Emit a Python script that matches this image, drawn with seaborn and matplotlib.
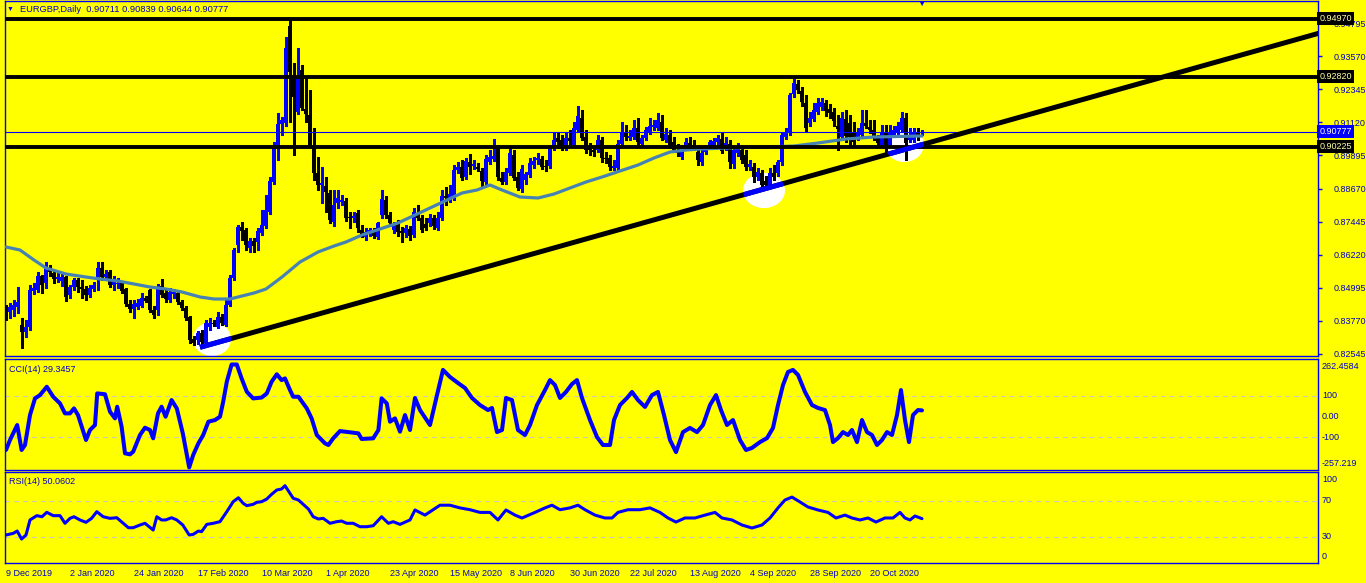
import numpy as np
import matplotlib
matplotlib.use("Agg")
import matplotlib.pyplot as plt
import matplotlib.transforms as mtransforms
from matplotlib.patches import Ellipse
import seaborn as sns

# daily candles (bar index 0 = 9 Dec 2019)
opens = [
    0.84242, 0.84093, 0.84167, 0.84279, 0.83612, 0.83352, 0.83538, 0.84872, 0.84909, 0.85428,
    0.85168, 0.85724, 0.85539, 0.85316, 0.85242, 0.85391, 0.84724, 0.85020, 0.85279, 0.85020,
    0.84946, 0.84724, 0.84946, 0.85353, 0.85724, 0.85391, 0.85576, 0.85094, 0.85131, 0.85168,
    0.84946, 0.84390, 0.84204, 0.84279, 0.84316, 0.84613, 0.84909, 0.84167, 0.84167, 0.85057,
    0.84798, 0.84538, 0.84761, 0.84798, 0.84464, 0.84242, 0.83908, 0.83093, 0.83056, 0.83315,
    0.82945, 0.83538, 0.83686, 0.83538, 0.83908, 0.83612, 0.84353, 0.85353, 0.86576, 0.87243,
    0.87132, 0.86465, 0.86725, 0.86688, 0.87021, 0.87280, 0.87799, 0.88911, 0.90282, 0.91061,
    0.91098, 0.94692, 0.92765, 0.91505, 0.93062, 0.91616, 0.91394, 0.90171, 0.89245, 0.88800,
    0.88763, 0.88503, 0.87429, 0.88133, 0.88170, 0.88207, 0.87614, 0.87577, 0.87762, 0.87132,
    0.86873, 0.87021, 0.87095, 0.86873, 0.87688, 0.88244, 0.87688, 0.87132, 0.87392, 0.87095,
    0.87021, 0.87169, 0.86947, 0.87762, 0.87577, 0.87355, 0.87392, 0.87577, 0.87206, 0.87577,
    0.88392, 0.88318, 0.88281, 0.89356, 0.89467, 0.89096, 0.89652, 0.89504, 0.89467, 0.89319,
    0.88911, 0.89652, 0.89763, 0.90171, 0.89059, 0.88911, 0.89245, 0.89911, 0.89096, 0.88651,
    0.88985, 0.89171, 0.89541, 0.89726, 0.89763, 0.89504, 0.89504, 0.90171, 0.90542, 0.90468,
    0.90171, 0.90542, 0.90282, 0.90838, 0.91283, 0.90579, 0.90171, 0.90097, 0.90097, 0.90468,
    0.89800, 0.89800, 0.89430, 0.89430, 0.90320, 0.90764, 0.90542, 0.90579, 0.90912, 0.90320,
    0.90542, 0.90764, 0.90949, 0.90912, 0.91135, 0.90468, 0.90653, 0.90394, 0.90097, 0.89837,
    0.90208, 0.90357, 0.90282, 0.90023, 0.89652, 0.90023, 0.90208, 0.90282, 0.90394, 0.90505,
    0.90208, 0.90320, 0.89578, 0.89985, 0.90097, 0.89911, 0.89467, 0.89467, 0.89096, 0.89245,
    0.88948, 0.88800, 0.89245, 0.89245, 0.89652, 0.90579, 0.90727, 0.92173, 0.92543, 0.92284,
    0.91839, 0.91098, 0.91246, 0.91505, 0.91691, 0.91839, 0.91616, 0.91505, 0.90987, 0.90579,
    0.91246, 0.91098, 0.90727, 0.90579, 0.90653, 0.91098, 0.90949, 0.90838, 0.90542, 0.90282,
    0.90764, 0.90282, 0.90653, 0.90764, 0.90838, 0.91283, 0.90468, 0.90468, 0.90727, 0.90711,
]
highs = [
    0.84353, 0.84427, 0.84538, 0.85020, 0.83871, 0.83797, 0.85094, 0.85168, 0.85576, 0.85465,
    0.85946, 0.85835, 0.85650, 0.85539, 0.85576, 0.85428, 0.85094, 0.85353, 0.85353, 0.85279,
    0.85057, 0.85094, 0.85205, 0.85946, 0.85946, 0.85650, 0.85650, 0.85428, 0.85353, 0.85242,
    0.84983, 0.84538, 0.84538, 0.84575, 0.84798, 0.84687, 0.84946, 0.84316, 0.85131, 0.85316,
    0.84909, 0.84983, 0.84946, 0.84872, 0.84538, 0.84316, 0.83945, 0.83204, 0.83389, 0.83426,
    0.83797, 0.83871, 0.83797, 0.84093, 0.84019, 0.84538, 0.85465, 0.86465, 0.87318, 0.87429,
    0.87206, 0.86836, 0.86836, 0.87206, 0.87873, 0.88429, 0.89096, 0.90394, 0.91468, 0.91320,
    0.94285, 0.94915, 0.93321, 0.93877, 0.93247, 0.92765, 0.92321, 0.90912, 0.89837, 0.89467,
    0.89096, 0.88614, 0.88614, 0.88614, 0.88429, 0.88318, 0.87799, 0.87799, 0.87873, 0.87318,
    0.87206, 0.87206, 0.87206, 0.87429, 0.88614, 0.88392, 0.87799, 0.87429, 0.87503, 0.87243,
    0.87318, 0.87280, 0.87947, 0.88058, 0.87688, 0.87577, 0.87725, 0.87688, 0.87799, 0.88614,
    0.88725, 0.88800, 0.89541, 0.89652, 0.89726, 0.89800, 0.89948, 0.89726, 0.89615, 0.89430,
    0.89911, 0.90097, 0.90505, 0.90282, 0.89282, 0.89430, 0.90171, 0.90097, 0.89282, 0.89541,
    0.89282, 0.89800, 0.89837, 0.89985, 0.89874, 0.89726, 0.90282, 0.90727, 0.90727, 0.90653,
    0.90764, 0.90838, 0.91135, 0.91727, 0.91579, 0.90838, 0.90356, 0.90245, 0.90653, 0.90579,
    0.90023, 0.89911, 0.89726, 0.90468, 0.91135, 0.91024, 0.90838, 0.91209, 0.91283, 0.90653,
    0.90949, 0.91283, 0.91209, 0.91468, 0.91394, 0.90912, 0.90838, 0.90579, 0.90320, 0.90282,
    0.90542, 0.90579, 0.90468, 0.90171, 0.90097, 0.90282, 0.90468, 0.90542, 0.90653, 0.90727,
    0.90579, 0.90468, 0.90245, 0.90357, 0.90208, 0.90097, 0.89726, 0.89615, 0.89430, 0.89356,
    0.89133, 0.89430, 0.89541, 0.89726, 0.90727, 0.90912, 0.92210, 0.92728, 0.92691, 0.92432,
    0.92136, 0.91505, 0.91839, 0.92024, 0.92024, 0.91950, 0.91802, 0.91653, 0.91394, 0.91505,
    0.91579, 0.91394, 0.91135, 0.90912, 0.91579, 0.91579, 0.91209, 0.91209, 0.90653, 0.91024,
    0.91024, 0.91024, 0.90986, 0.91135, 0.91505, 0.91468, 0.90912, 0.90912, 0.90912, 0.90839,
]
lows = [
    0.83797, 0.83871, 0.83945, 0.84056, 0.82760, 0.83167, 0.83426, 0.84761, 0.84835, 0.84798,
    0.84983, 0.85428, 0.85168, 0.85205, 0.85057, 0.84501, 0.84613, 0.84909, 0.84835, 0.84613,
    0.84538, 0.84650, 0.84872, 0.84909, 0.85279, 0.85279, 0.85020, 0.84909, 0.84983, 0.84798,
    0.84316, 0.84093, 0.83871, 0.84204, 0.84279, 0.84464, 0.84093, 0.83871, 0.83982, 0.84650,
    0.84464, 0.84464, 0.84613, 0.84390, 0.84167, 0.83797, 0.82945, 0.82871, 0.82908, 0.82834,
    0.82871, 0.83426, 0.83575, 0.83501, 0.83612, 0.83575, 0.84316, 0.85279, 0.86317, 0.86762,
    0.86391, 0.86317, 0.86317, 0.86391, 0.86947, 0.87206, 0.87725, 0.88836, 0.89726, 0.90653,
    0.90987, 0.91135, 0.89912, 0.91431, 0.91579, 0.91135, 0.90208, 0.88985, 0.88614, 0.88133,
    0.87799, 0.87392, 0.87280, 0.87947, 0.88058, 0.87466, 0.87206, 0.87429, 0.87058, 0.86873,
    0.86762, 0.86910, 0.86836, 0.86799, 0.87577, 0.87577, 0.87280, 0.87021, 0.86910, 0.86688,
    0.86873, 0.86762, 0.86873, 0.87503, 0.87058, 0.87132, 0.87280, 0.87169, 0.87132, 0.87503,
    0.88058, 0.88170, 0.88244, 0.89245, 0.88985, 0.89022, 0.89207, 0.89393, 0.89319, 0.88763,
    0.88836, 0.89578, 0.89689, 0.88985, 0.88836, 0.88836, 0.89171, 0.88985, 0.88614, 0.88540,
    0.88836, 0.89096, 0.89430, 0.89578, 0.89393, 0.89319, 0.89430, 0.90097, 0.90171, 0.90097,
    0.90097, 0.90320, 0.90208, 0.90764, 0.90468, 0.89985, 0.89911, 0.89874, 0.90023, 0.89652,
    0.89615, 0.89356, 0.89356, 0.89356, 0.90245, 0.90468, 0.90468, 0.90505, 0.90282, 0.90208,
    0.90468, 0.90690, 0.90838, 0.90838, 0.90468, 0.90394, 0.90171, 0.90023, 0.89874, 0.89763,
    0.90134, 0.90171, 0.90097, 0.89541, 0.89541, 0.89948, 0.90134, 0.90208, 0.90282, 0.89985,
    0.90097, 0.89430, 0.89430, 0.89874, 0.89615, 0.89356, 0.89356, 0.88911, 0.88985, 0.88614,
    0.88688, 0.88688, 0.88985, 0.89133, 0.89541, 0.90505, 0.90653, 0.92061, 0.92210, 0.91727,
    0.90764, 0.90986, 0.91172, 0.91431, 0.91579, 0.91357, 0.91283, 0.90987, 0.90097, 0.90468,
    0.90394, 0.90245, 0.90282, 0.90468, 0.90579, 0.90912, 0.90727, 0.90468, 0.90208, 0.90208,
    0.90023, 0.90208, 0.90579, 0.90690, 0.90764, 0.89726, 0.90394, 0.90394, 0.90468, 0.90644,
]
closes = [
    0.83908, 0.84279, 0.84353, 0.84464, 0.83352, 0.83538, 0.84909, 0.84983, 0.85428, 0.85094,
    0.85798, 0.85576, 0.85316, 0.85391, 0.85391, 0.84650, 0.85020, 0.85279, 0.85020, 0.84946,
    0.84724, 0.84983, 0.85094, 0.85724, 0.85391, 0.85502, 0.85094, 0.85205, 0.85168, 0.84872,
    0.84390, 0.84204, 0.84390, 0.84427, 0.84613, 0.84501, 0.84167, 0.83982, 0.85020, 0.84724,
    0.84575, 0.84835, 0.84835, 0.84464, 0.84242, 0.83871, 0.83056, 0.82945, 0.83315, 0.82982,
    0.83686, 0.83686, 0.83649, 0.83908, 0.83686, 0.84353, 0.85353, 0.86391, 0.87243, 0.87095,
    0.86576, 0.86725, 0.86539, 0.87095, 0.87318, 0.87873, 0.88948, 0.90171, 0.91061, 0.91209,
    0.93877, 0.92988, 0.92061, 0.92765, 0.91653, 0.91431, 0.90282, 0.89245, 0.88800, 0.88874,
    0.88540, 0.87503, 0.88058, 0.88318, 0.88244, 0.87577, 0.87577, 0.87651, 0.87206, 0.86947,
    0.87058, 0.87132, 0.86910, 0.87392, 0.88281, 0.87688, 0.87392, 0.87318, 0.87058, 0.87021,
    0.87206, 0.86910, 0.87799, 0.87577, 0.87132, 0.87206, 0.87577, 0.87280, 0.87577, 0.88392,
    0.88318, 0.88466, 0.89356, 0.89467, 0.89059, 0.89689, 0.89467, 0.89578, 0.89393, 0.88948,
    0.89763, 0.89837, 0.89874, 0.89096, 0.88911, 0.89282, 0.89985, 0.89059, 0.88688, 0.89393,
    0.89207, 0.89615, 0.89689, 0.89800, 0.89467, 0.89467, 0.90171, 0.90468, 0.90394, 0.90171,
    0.90542, 0.90431, 0.90912, 0.91357, 0.90542, 0.90097, 0.90097, 0.90023, 0.90468, 0.89800,
    0.89763, 0.89467, 0.89504, 0.90320, 0.90764, 0.90579, 0.90616, 0.90912, 0.90394, 0.90542,
    0.90838, 0.90986, 0.91024, 0.91209, 0.90542, 0.90690, 0.90282, 0.90097, 0.89985, 0.90097,
    0.90394, 0.90245, 0.90208, 0.89726, 0.89985, 0.90171, 0.90394, 0.90431, 0.90542, 0.90060,
    0.90357, 0.89652, 0.90097, 0.90171, 0.89726, 0.89467, 0.89578, 0.89096, 0.89282, 0.88800,
    0.88800, 0.89245, 0.89096, 0.89652, 0.90653, 0.90727, 0.92136, 0.92580, 0.92321, 0.91876,
    0.90912, 0.91283, 0.91579, 0.91839, 0.91876, 0.91542, 0.91468, 0.91172, 0.90875, 0.91283,
    0.90616, 0.90579, 0.90394, 0.90727, 0.91098, 0.90986, 0.90838, 0.90579, 0.90357, 0.90727,
    0.90282, 0.90727, 0.90838, 0.90986, 0.91283, 0.90357, 0.90653, 0.90727, 0.90579, 0.90777,
]

# moving average (steel blue line)
ma_idx = [0, 3.5, 7, 10, 15, 20, 23.5, 28, 32, 36, 40, 44, 48.5, 52, 56, 62, 65, 69, 73.5, 78,
          82, 85, 89, 98, 106, 114, 117.75, 121, 124, 128.5, 133, 137, 141, 145, 149, 153.5,
          158, 162, 166, 170, 173.5, 180, 190, 197, 203, 210, 217, 229]
ma_val = [0.86502, 0.86391, 0.86020, 0.85724, 0.85501, 0.85390, 0.85316, 0.85242, 0.85131,
          0.85020, 0.84946, 0.84835, 0.84650, 0.84575, 0.84575, 0.84798, 0.84946, 0.85390,
          0.85946, 0.86317, 0.86539, 0.86688, 0.86947, 0.87392, 0.87948, 0.88503, 0.88615,
          0.88800, 0.88615, 0.88355, 0.88318, 0.88466, 0.88689, 0.88911, 0.89096, 0.89319,
          0.89541, 0.89801, 0.90023, 0.90097, 0.90134, 0.90171, 0.90208, 0.90245, 0.90356,
          0.90505, 0.90579, 0.90616]

# CCI(14)
cci_idx = [0, 1, 2.8, 3.9, 4.75, 6, 7.25, 8.5, 10.2, 11.8, 13.5, 14.75, 16, 17, 18, 20, 21,
           22.25, 22.8, 24.75, 26, 27.25, 27.8, 28.9, 29.75, 31, 31.8, 33.5, 34.75, 36, 36.8,
           38, 38.9, 39.9, 41.4, 42.7, 44.2, 45.8, 46.8, 48.1, 49.3, 50.6, 52.25, 53.5, 54.3,
           55.2, 56.4, 57.7, 58.9, 60.2, 61.8, 63.9, 65.2, 66.4, 67.7, 68.9, 69.75, 71, 71.8,
           73.1, 75.2, 76.4, 77.7, 79.75, 80.6, 81.8, 83.5, 86, 88.1, 88.9, 91.8, 93.1, 93.9,
           95.2, 96, 97.25, 98.5, 99.75, 101, 102.25, 103.5, 106, 107.75, 109.25, 111, 113,
           114.75, 116.5, 118.5, 120.5, 121.5, 122.75, 124, 125, 126.5, 128, 129.75, 131,
           132.75, 134.75, 136, 137.25, 138.5, 140, 141.5, 142.75, 144, 146, 147.75, 149.25,
           151, 152, 153.5, 155.25, 156.5, 158, 159.75, 161.5, 163, 164.5, 166, 167.5, 169.25,
           171, 172.75, 174.25, 176, 177.5, 178.75, 180.25, 181.75, 183.5, 185, 186.5, 188.5,
           190.25, 191.75, 193, 194.25, 195.5, 196.75, 198, 199.75, 201.5, 203, 204.75, 206,
           206.75, 208, 209.25, 210.5, 211.5, 212.75, 214, 215.25, 216.5, 217.75, 219, 220.25,
           221.5, 222.75, 223.75, 224.75, 225.75, 226.75, 228, 229]
cci_val = [-161, -113, -41, -161, -137, 7, 87, 103, 143, 95, 63, 15, 15, 39, 7, -113, -65,
           -41, 111, 107, 23, -9, 47, -49, -177, -182, -169, -89, -54, -65, -105, 15, 47, -1,
           79, 39, -81, -245, -185, -129, -89, -25, -17, -1, 71, 167, 250, 250, 183, 119, 87,
           91, 111, 167, 203, 175, 183, 127, 95, 95, 39, -9, -89, -129, -137, -105, -70, -76,
           -81, -108, -105, -65, 87, 63, -25, -9, -73, 7, -65, 89, 31, -41, 103, 224, 190,
           161, 137, 89, 55, 31, 41, -75, -65, 89, 79, -65, -89, -41, 55, 127, 175, 151, 89,
           118, 156, 175, 89, -17, -99, -137, -137, -17, 55, 89, 118, 79, 46, 103, 118, 7,
           -113, -171, -75, -55, -75, -41, 55, 103, 31, -41, -17, -113, -161, -151, -123, -104,
           -55, 55, 151, 214, 224, 200, 118, 55, 41, 31, -41, -123, -104, -75, -89, -65, -123,
           -17, -75, -89, -137, -113, -75, -89, 7, 127, -17, -123, 7, 31, 29.35]

# RSI(14)
rsi_idx = [0, 1.8, 2.8, 3.9, 5, 6, 7.7, 9, 10.2, 11.8, 13.5, 14.75, 16, 17, 18.5, 20, 21.4,
           22.7, 24.3, 26, 27.7, 29.3, 30.6, 31.8, 33.5, 34.75, 36.8, 37.7, 38.9, 39.9, 41.4,
           42.7, 44.2, 45.8, 46.8, 48.1, 48.9, 50.2, 51.8, 53.5, 55.2, 56.8, 58.1, 59.3, 60.2,
           61.8, 62.7, 63.9, 65.2, 66.4, 67.7, 68.9, 69.75, 71, 71.8, 73.1, 74.3, 75.6, 76.8,
           78.1, 79.3, 81, 82.7, 83.9, 85.2, 86.8, 88.5, 90.2, 91.8, 93.9, 95.6, 96.8, 98.5,
           101, 102.25, 104.75, 108.5, 111, 113.5, 116, 118.5, 121, 123, 125, 127.25, 129,
           132.25, 134.75, 136.5, 138.5, 141, 143, 144.75, 147.25, 149.75, 151.5, 153, 155.5,
           158.5, 161, 163.5, 165.5, 167.5, 169.75, 172.25, 174.75, 177.25, 179, 181.5, 184,
           186.5, 189, 191, 193, 194.75, 196.5, 198.5, 200.5, 203, 205.5, 207.5, 209.75,
           211.5, 213.5, 215.5, 217.5, 219.75, 221.75, 223.5, 224.75, 226, 227.25, 229]
rsi_val = [31.9, 33.7, 36.3, 27.4, 31.9, 48.6, 53.4, 52.2, 57.1, 53.4, 53.4, 44.9, 50.4, 52.2,
           48.6, 46, 50.4, 57.8, 52.2, 50.4, 51.1, 44.9, 40, 40, 43, 44.9, 37.4, 52.2, 48.6,
           48.6, 51.1, 48.6, 43, 31.9, 32.6, 36.3, 35.6, 43.7, 44.9, 46.7, 57.8, 68.9, 73.3,
           67.1, 64.5, 66, 68.2, 68.9, 71.9, 77.1, 81.9, 83, 86.7, 78.2, 72.7, 70.8, 66, 60.8,
           52.2, 49.7, 50.4, 44.9, 46.7, 47.4, 44.9, 44.9, 41.1, 41.1, 42.2, 52.2, 44.9, 46.7,
           43.7, 48.6, 59.7, 54, 65, 65, 62, 60, 57, 57, 48.6, 59.7, 54, 50.8, 57, 62, 65, 60,
           62, 65, 60, 54, 50.8, 50.8, 57, 60, 60, 62, 57, 50.8, 46.3, 50.8, 50.8, 54, 57,
           50.8, 48.6, 43, 39.7, 43, 50.8, 62, 70.8, 74, 68.6, 63, 59.7, 57, 50.8, 54, 50.8,
           48.6, 50.8, 46.3, 50.8, 50.8, 57, 50.8, 48.6, 53, 50.06]

# chart objects
hline_levels = [0.94970, 0.92820, 0.90225]
bid_price = 0.90777
trend_x = [48.5, 340]
trend_y = [0.82785, 0.94915]
ellipse_x = [51.5, 189.5, 224.6]
ellipse_y = [0.83092, 0.88595, 0.90301]
ellipse_w = [9.5, 10.5, 9.75]
ellipse_h = [0.0126, 0.0130, 0.0130]

price_ticks = [0.94795, 0.93570, 0.92345, 0.91120, 0.89895, 0.88670, 0.87445,
               0.86220, 0.84995, 0.83770, 0.82545]
date_idx = [0, 16, 32, 48, 64, 80, 96, 111, 126, 141, 156, 171, 186, 201, 216]
date_labels = ['9 Dec 2019', '2 Jan 2020', '24 Jan 2020', '17 Feb 2020', '10 Mar 2020',
               '1 Apr 2020', '23 Apr 2020', '15 May 2020', '8 Jun 2020', '30 Jun 2020',
               '22 Jul 2020', '13 Aug 2020', '4 Sep 2020', '28 Sep 2020', '20 Oct 2020']

sns.set_style("white")
plt.rcParams['font.family'] = ['Liberation Sans', 'DejaVu Sans']

YELLOW = '#ffff00'
BLUE = '#0000ff'
TXT = '#0000c8'
FS = 6.5
W, H = 1366, 583

fig = plt.figure(figsize=(W / 100, H / 100), dpi=100, facecolor=YELLOW)


def panel(top, bottom):
    return [5 / W, 1 - bottom / H, 1313 / W, (bottom - top) / H]


ax = fig.add_axes(panel(1, 356))
ax_cci = fig.add_axes(panel(359, 470))
ax_rsi = fig.add_axes(panel(472, 563))

for a in (ax, ax_cci, ax_rsi):
    a.set_facecolor(YELLOW)
    for s in a.spines.values():
        s.set_color(BLUE)
        s.set_linewidth(1)
    a.set_xlim(-0.25, 328)

# ---- main price panel
ax.set_ylim(0.82463, 0.95619)
for ex, ey, ew, eh in zip(ellipse_x, ellipse_y, ellipse_w, ellipse_h):
    ax.add_patch(Ellipse((ex, ey), ew, eh, facecolor='white', edgecolor='none', zorder=1))

o = np.array(opens)
c = np.array(closes)
idx = np.arange(len(c))
cols = np.where(c >= o, BLUE, 'black')
ax.vlines(idx, lows, highs, colors=cols, linewidth=1.0, zorder=4, antialiased=False)
ax.bar(idx, np.maximum(np.abs(c - o), 0.0003), bottom=np.minimum(o, c), width=0.8,
       color=cols, linewidth=0, zorder=5, antialiased=False)

sns.lineplot(x=ma_idx, y=ma_val, ax=ax, color='#4682b4', linewidth=2.3, zorder=5.5)

for lv in hline_levels:
    ax.axhline(lv, color='black', linewidth=2.8, zorder=6)
ax.axhline(bid_price, color=BLUE, linewidth=0.8, zorder=6)

ax.plot(trend_x, trend_y, color='black', linewidth=3.6, solid_capstyle='butt', zorder=6)
for p in ax.patches:
    if isinstance(p, Ellipse):
        ln, = ax.plot(trend_x, trend_y, color=BLUE, linewidth=3.6, solid_capstyle='butt', zorder=7)
        ln.set_clip_path(p)

ax.yaxis.tick_right()
ax.set_yticks(price_ticks)
ax.set_yticklabels([f"{v:.5f}" for v in price_ticks])
ax.tick_params(axis='y', length=3, width=1, color=BLUE, labelcolor=TXT, labelsize=FS, pad=8)
ax.set_xticks([])
ax.set_xlabel('')
ax.set_ylabel('')

tr = mtransforms.blended_transform_factory(ax.transAxes, ax.transData)
for lv in hline_levels:
    ax.text(1.0012, lv, f"{lv:.5f}", transform=tr, ha='left', va='center', fontsize=FS,
            color='#ffffa0', zorder=10, clip_on=False,
            bbox=dict(boxstyle='square,pad=0.25', fc='black', ec='none'))
ax.text(1.0012, bid_price, f"{bid_price:.5f}", transform=tr, ha='left', va='center',
        fontsize=FS, color='white', zorder=10, clip_on=False,
        bbox=dict(boxstyle='square,pad=0.25', fc=BLUE, ec='none'))

# ---- CCI panel
ax_cci.set_ylim(-257.2, 276.4)
for lv in (100, -100):
    ax_cci.axhline(lv, color='#c8c8c8', linewidth=0.8, linestyle=(0, (4, 4)), zorder=1)
sns.lineplot(x=cci_idx, y=cci_val, ax=ax_cci, color=BLUE, linewidth=2.9, zorder=3)
ax_cci.set_xticks([])
ax_cci.set_yticks([])
ax_cci.set_xlabel('')
ax_cci.set_ylabel('')
trc = mtransforms.blended_transform_factory(ax_cci.transAxes, ax_cci.transData)
for val, lab in [(238, '262.4584'), (100, '100'), (0, '0.00'), (-100, '-100'), (-224, '-257.219')]:
    ax_cci.text(1.003, val, lab, transform=trc, ha='left', va='center', fontsize=FS,
                color=TXT, clip_on=False)

# ---- RSI panel
ax_rsi.set_ylim(0.78, 101.9)
for lv in (70, 30):
    ax_rsi.axhline(lv, color='#c8c8c8', linewidth=0.8, linestyle=(0, (4, 4)), zorder=1)
sns.lineplot(x=rsi_idx, y=rsi_val, ax=ax_rsi, color=BLUE, linewidth=2.2, zorder=3)
ax_rsi.set_yticks([])
ax_rsi.set_xlabel('')
ax_rsi.set_ylabel('')
trr = mtransforms.blended_transform_factory(ax_rsi.transAxes, ax_rsi.transData)
for val, lab in [(94.1, '100'), (70, '70'), (30, '30'), (8.2, '0')]:
    ax_rsi.text(1.003, val, lab, transform=trr, ha='left', va='center', fontsize=FS,
                color=TXT, clip_on=False)
ax_rsi.set_xticks(date_idx)
ax_rsi.set_xticklabels(date_labels, ha='left')
ax_rsi.tick_params(axis='x', length=3, width=1, color=BLUE, labelcolor=TXT, labelsize=FS, pad=1.5)

# ---- header texts
fig.text(10 / W, 1 - 9 / H, '\u25bc', fontsize=5, color=BLUE, ha='center', va='center')
fig.text(20 / W, 1 - 9 / H, 'EURGBP,Daily  0.90711 0.90839 0.90644 0.90777', fontsize=6.7,
         color=TXT, ha='left', va='center')
fig.text(921 / W, 1 - 4 / H, '\u25bc', fontsize=6, color=BLUE, ha='center', va='center')
fig.text(9 / W, 1 - 369 / H, 'CCI(14) 29.3457', fontsize=FS, color=TXT, ha='left', va='center')
fig.text(9 / W, 1 - 482 / H, 'RSI(14) 50.0602', fontsize=FS, color=TXT, ha='left', va='center')

fig.savefig('out.png', dpi=100, facecolor=YELLOW)
